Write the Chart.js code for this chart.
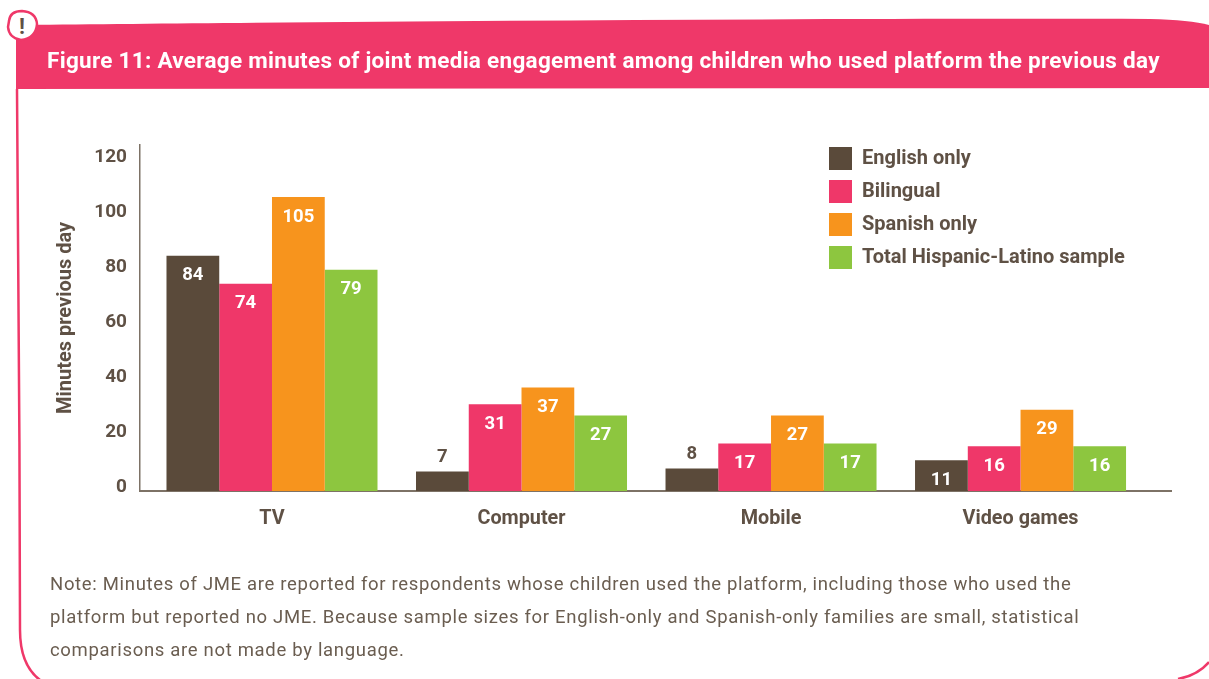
<!DOCTYPE html>
<html>
<head>
<meta charset="utf-8">
<title>Figure 11</title>
<script src="https://cdn.jsdelivr.net/npm/chart.js@4/dist/chart.umd.min.js"></script>
<style>
    html, body { margin: 0; padding: 0; background: #fff; }
    #page { position: relative; width: 1209px; height: 679px; overflow: hidden; font-family: Roboto, sans-serif; }
    #frame, #jmeChart { position: absolute; left: 0; top: 0; }
    .heading { position: absolute; left: 47px; top: 45px; color: #fff; font-weight: 700; font-size: 22.5px; line-height: 30px; letter-spacing: 0.29px; white-space: nowrap; }
    .note { position: absolute; left: 50px; color: #6a5d50; font-size: 18.5px; line-height: 24px; letter-spacing: 0.68px; white-space: nowrap; }
</style>
</head>
<body>
<div id="page">
    <svg id="frame" width="1209" height="679">
        <path d="M16 30 Q16 26 24 25 C300 22 800 18 1150 19 Q1190 20 1209 25 L1209 88 L16 89 Z" fill="#ef3869"/>
        <path d="M17 89 C18 250 20 450 20 630 Q20 665 40 680" fill="none" stroke="#ef3869" stroke-width="2.5"/>
        <path d="M1178 679 Q1198 675 1209 662" fill="none" stroke="#ef3869" stroke-width="2.5"/>
        <path d="M9 21 Q10 11 22 11 Q36 12 37 24 Q36 38 21 40 Q9 38 8 27 Z" fill="#fff" stroke="#ef3869" stroke-width="2.5"/>
        <text x="22" y="34" text-anchor="middle" font-family="Roboto" font-weight="700" font-size="22" fill="#5f5145">!</text>
    </svg>
    <canvas id="jmeChart" width="1209" height="679"></canvas>
    <div class="heading">Figure 11: Average minutes of joint media engagement among children who used platform the previous day</div>
    <div class="note" style="top:572px">Note: Minutes of JME are reported for respondents whose children used the platform, including those who used the</div>
    <div class="note" style="top:605px">platform but reported no JME. Because sample sizes for English-only and Spanish-only families are small, statistical</div>
    <div class="note" style="top:638px">comparisons are not made by language.</div>
</div>

<script>
const categories = ['TV', 'Computer', 'Mobile', 'Video games'];
const englishOnly = [84, 7, 8, 11];
const bilingual = [74, 31, 17, 16];
const spanishOnly = [105, 37, 27, 29];
const totalSample = [79, 27, 17, 16];
const yTickLabels = [0, 20, 40, 60, 80, 100, 120];

const BROWN = '#5a4a3a';
const TEXT = '#5f5145';
const AXIS = '#7d7266';

// puts the legend in the upper right of the plot
const legendPlacer = {
    id: 'legendPlacer',
    afterLayout(chart) {
        const l = chart.legend;
        const w = l.right - l.left, h = l.bottom - l.top;
        l.left = 819; l.top = 137;
        l.right = l.left + Math.max(w, 320); l.bottom = l.top + Math.max(h, 130);
    }
};

// value labels: inside the bar, or above it when the bar is too short
const valueLabels = {
    id: 'valueLabels',
    afterDatasetsDraw(chart) {
        const ctx = chart.ctx;
        ctx.save();
        ctx.font = '700 18.5px Roboto';
        ctx.textAlign = 'center';
        ctx.textBaseline = 'middle';
        chart.data.datasets.forEach((ds, i) => {
            chart.getDatasetMeta(i).data.forEach((bar, j) => {
                const v = ds.data[j];
                const inside = v >= 10;
                ctx.fillStyle = inside ? '#fff' : TEXT;
                ctx.fillText(v, bar.x, inside ? bar.y + 20 : bar.y - 14);
            });
        });
        ctx.restore();
    }
};

new Chart(document.getElementById('jmeChart'), {
    type: 'bar',
    data: {
        labels: categories.map((c, i) => i),
        datasets: [
            { label: 'English only', data: englishOnly, backgroundColor: BROWN, yAxisID: 'y' },
            { label: 'Bilingual', data: bilingual, backgroundColor: '#ef3769', yAxisID: 'y' },
            { label: 'Spanish only', data: spanishOnly, backgroundColor: '#f7941d', yAxisID: 'y' },
            { label: 'Total Hispanic-Latino sample', data: totalSample, backgroundColor: '#8dc63f', yAxisID: 'y' }
        ]
    },
    options: {
        responsive: false,
        animation: false,
        layout: { padding: { left: 53, top: 145, right: 38, bottom: 146 } },
        datasets: { bar: { categoryPercentage: 0.8457, barPercentage: 1 } },
        scales: {
            x: {
                type: 'linear',
                offset: false,
                min: -0.529,
                max: 3.603,
                afterBuildTicks: s => { s.ticks = categories.map((c, i) => ({ value: i })); },
                afterFit: s => { s.height = 42; },
                grid: { display: false, drawTicks: false, offset: false },
                border: { color: AXIS, width: 2 },
                ticks: {
                    autoSkip: false, maxRotation: 0, padding: 16,
                    color: TEXT, font: { family: 'Roboto', weight: '700', size: 19.8 },
                    callback: v => categories[v]
                }
            },
            y: { display: false, min: 0, max: 123.57 },
            // the printed tick labels run on a slightly tighter spacing than the bars
            yLabels: {
                position: 'left',
                min: -1.46,
                max: 124.36,
                afterBuildTicks: s => { s.ticks = yTickLabels.map(v => ({ value: v })); },
                afterFit: s => { s.width = 87; },
                grid: { display: false, drawTicks: false },
                border: { color: AXIS, width: 1.5 },
                ticks: { padding: 13, color: TEXT, font: { family: 'Roboto', weight: '700', size: 19 } },
                title: {
                    display: true, text: 'Minutes previous day', color: TEXT, padding: 1,
                    font: { family: 'Roboto', weight: '700', size: 20 }
                }
            }
        },
        plugins: {
            tooltip: { enabled: false },
            legend: {
                position: 'chartArea',
                align: 'start',
                onClick: null,
                labels: {
                    boxWidth: 23, boxHeight: 23, padding: 10, color: TEXT,
                    font: { family: 'Roboto', weight: '700', size: 20 }
                }
            }
        }
    },
    plugins: [legendPlacer, valueLabels]
});
</script>
</body>
</html>
